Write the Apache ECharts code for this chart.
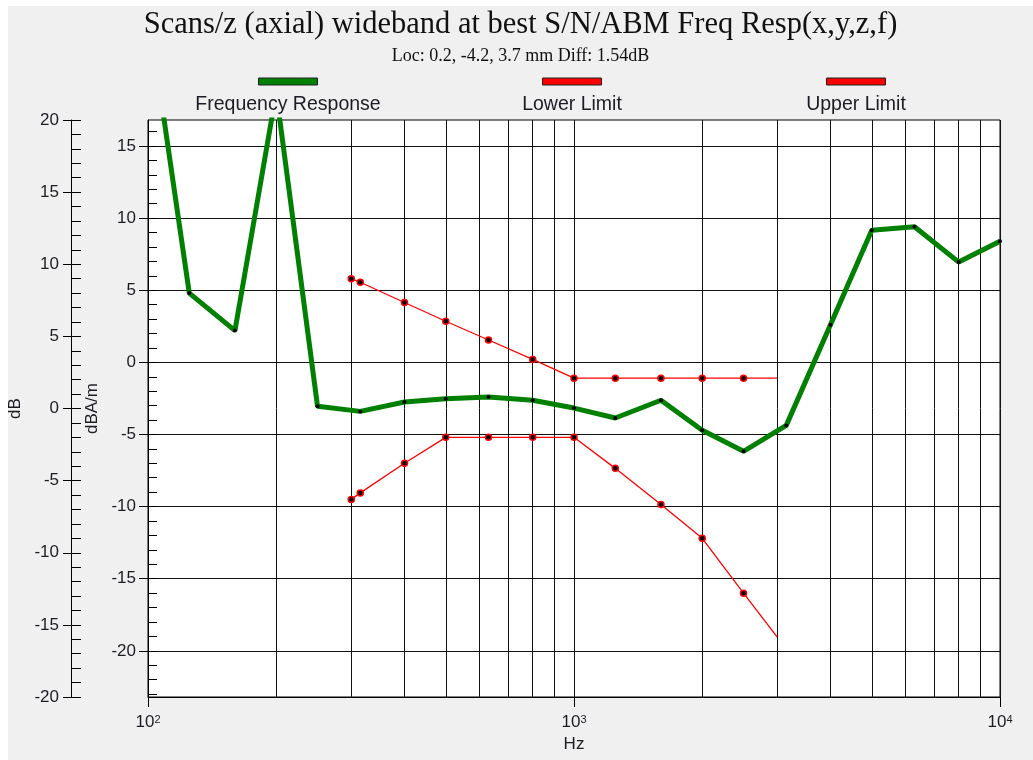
<!DOCTYPE html>
<html>
<head>
<meta charset="utf-8">
<script src="https://cdn.jsdelivr.net/npm/echarts@6/dist/echarts.min.js"></script>
<style>
    html, body { margin: 0; padding: 0; background: #fff; }
    #main { position: absolute; left: 8px; top: 6px; width: 1025px; height: 754px; }
</style>
</head>
<body>
<div id="main"></div>
<script>
// 频率 (Hz)
const freqResp = [100, 125, 160, 200, 250, 315, 400, 500, 630, 800, 1000, 1250, 1600, 2000, 2500, 3150, 4000, 5000, 6300, 8000, 10000]
const valResp = [24.5, 4.8, 2.2, 18.7, -3.05, -3.4, -2.75, -2.52, -2.4, -2.63, -3.17, -3.86, -2.63, -4.71, -6.17, -4.37, 2.6, 9.15, 9.4, 6.95, 8.4]

const freqLimit = [300, 315, 400, 500, 630, 800, 1000, 1250, 1600, 2000, 2500, 3000]
const valLower = [-9.5, -9.05, -7.0, -5.2, -5.2, -5.2, -5.2, -7.35, -9.85, -12.2, -16.0, -19.05]
const valUpper = [5.8, 5.55, 4.15, 2.85, 1.55, 0.2, -1.1, -1.1, -1.1, -1.1, -1.1, -1.1]

// tick labels
const xMajor = [100, 1000, 10000]
const xMinor = [200, 300, 400, 500, 600, 700, 800, 900, 2000, 3000, 4000, 5000, 6000, 7000, 8000, 9000]
const innerMajor = [-20, -15, -10, -5, 0, 5, 10, 15]
const innerMinor = [-23, -22, -21, -20, -19, -18, -17, -16, -15, -14, -13, -12, -11, -10, -9, -8, -7, -6, -5, -4, -3, -2, -1, 0, 1, 2, 3, 4, 5, 6, 7, 8, 9, 10, 11, 12, 13, 14, 15, 16]

const legendNames = ['Frequency Response', 'Lower Limit', 'Upper Limit']
const legendColors = ['#008000', '#ff0000', '#ff0000']

const sans = 'Liberation Sans, Arial, sans-serif'
const serif = 'Liberation Serif, Times New Roman, serif'
const labelColor = '#1c1c24'

function pairs(xs, ys, lastNoSymbol) {
    return xs.map(function (x, i) {
        let item = { value: [x, ys[i]] }
        if (lastNoSymbol && i == xs.length - 1) {
            item.symbol = 'none'
        }
        return item
    })
}

// 图例 (图标在上，文字在下)
const legendX = [280, 564, 848]
let graphic = []
for (let i in legendNames) {
    graphic.push({
        type: 'rect',
        shape: { x: legendX[i] - 29.5, y: 72, width: 59, height: 7 },
        style: { fill: legendColors[i], stroke: '#222', lineWidth: 1 }
    })
    graphic.push({
        type: 'text',
        x: legendX[i],
        y: 99,
        style: {
            text: legendNames[i],
            fill: labelColor,
            font: '19.5px ' + sans,
            textAlign: 'center',
            textVerticalAlign: 'middle'
        }
    })
}

const option = {
    backgroundColor: '#f0f0f0',
    animation: false,
    title: [{
        text: 'Scans/z (axial) wideband at best S/N/ABM Freq Resp(x,y,z,f)',
        left: 'center',
        top: -2,
        textStyle: { fontFamily: serif, fontSize: 30.5, fontWeight: 'normal', color: '#111' }
    }, {
        text: 'Loc: 0.2, -4.2, 3.7 mm Diff: 1.54dB',
        left: 'center',
        top: 36,
        textStyle: { fontFamily: serif, fontSize: 18, fontWeight: 'normal', color: '#111' }
    }],
    graphic: graphic,
    grid: {
        left: 140,
        top: 114,
        width: 852,
        height: 577,
        show: true,
        backgroundColor: '#fff',
        borderColor: '#000',
        borderWidth: 1,
        outerBoundsMode: 'none'
    },
    xAxis: [{
        type: 'log',
        logBase: 10,
        min: 100,
        max: 10000,
        position: 'bottom',
        name: 'Hz',
        nameLocation: 'middle',
        nameGap: 37,
        nameTextStyle: { fontFamily: sans, fontSize: 17, color: labelColor },
        axisLine: { show: true, onZero: false, lineStyle: { color: '#000', width: 1 } },
        axisTick: { show: true, inside: false, length: 10, customValues: xMajor, lineStyle: { color: '#000' } },
        axisLabel: {
            margin: 17,
            customValues: xMajor,
            formatter: function (v) {
                return '{b|10}{s|' + Math.round(Math.log10(v)) + '}'
            },
            rich: {
                b: { fontFamily: sans, fontSize: 17, color: labelColor },
                s: { fontFamily: sans, fontSize: 11, color: labelColor, verticalAlign: 'top' }
            }
        },
        splitLine: { show: true, lineStyle: { color: '#111', width: 1 } }
    }, {
        // 对数副网格线
        type: 'log',
        logBase: 10,
        min: 100,
        max: 10000,
        position: 'bottom',
        axisLine: { show: false },
        axisTick: { show: false, customValues: xMinor },
        axisLabel: { show: false },
        splitLine: { show: true, lineStyle: { color: '#111', width: 1 } }
    }],
    yAxis: [{
        // dBA/m 内轴
        type: 'value',
        min: -23.2,
        max: 16.8,
        position: 'left',
        name: 'dBA/m',
        nameLocation: 'middle',
        nameGap: 42,
        nameTextStyle: { fontFamily: sans, fontSize: 17, color: labelColor },
        axisLine: { show: true, onZero: false, lineStyle: { color: '#000', width: 1 } },
        axisTick: { show: true, inside: false, length: 9, customValues: innerMajor, lineStyle: { color: '#000' } },
        axisLabel: { margin: 12, customValues: innerMajor, fontFamily: sans, fontSize: 17, color: labelColor },
        splitLine: { show: true, lineStyle: { color: '#111', width: 1 } }
    }, {
        // dB 外轴
        type: 'value',
        min: -20,
        max: 20,
        interval: 5,
        position: 'left',
        offset: 77,
        name: 'dB',
        nameLocation: 'middle',
        nameGap: 40,
        nameTextStyle: { fontFamily: sans, fontSize: 17, color: labelColor },
        axisLine: { show: true, onZero: false, lineStyle: { color: '#000', width: 1 } },
        axisTick: { show: true, inside: false, length: 8, lineStyle: { color: '#000' } },
        axisLabel: { margin: 12, fontFamily: sans, fontSize: 17, color: labelColor },
        splitLine: { show: false }
    }, {
        // 内轴小刻度
        type: 'value',
        min: -23.2,
        max: 16.8,
        position: 'left',
        axisLine: { show: false },
        axisTick: { show: true, inside: true, length: 9, customValues: innerMinor, lineStyle: { color: '#000' } },
        axisLabel: { show: false },
        splitLine: { show: false }
    }, {
        // 外轴小刻度
        type: 'value',
        min: -20,
        max: 20,
        interval: 1,
        position: 'left',
        offset: 77,
        axisLine: { show: false },
        axisTick: { show: true, inside: true, length: 10, lineStyle: { color: '#000' } },
        axisLabel: { show: false },
        splitLine: { show: false }
    }],
    series: [{
        name: legendNames[0],
        type: 'line',
        xAxisIndex: 0,
        yAxisIndex: 0,
        data: pairs(freqResp, valResp, false),
        symbol: 'circle',
        symbolSize: 4,
        showAllSymbol: true,
        itemStyle: { color: '#000' },
        lineStyle: { color: '#008000', width: 5 },
        silent: true,
        z: 3
    }, {
        name: legendNames[1],
        type: 'line',
        xAxisIndex: 0,
        yAxisIndex: 0,
        data: pairs(freqLimit, valLower, true),
        symbol: 'circle',
        symbolSize: 6,
        showAllSymbol: true,
        itemStyle: { color: '#000', borderColor: '#ff0000', borderWidth: 1.5 },
        lineStyle: { color: '#ff0000', width: 1.3 },
        silent: true,
        z: 4
    }, {
        name: legendNames[2],
        type: 'line',
        xAxisIndex: 0,
        yAxisIndex: 0,
        data: pairs(freqLimit, valUpper, true),
        symbol: 'circle',
        symbolSize: 6,
        showAllSymbol: true,
        itemStyle: { color: '#000', borderColor: '#ff0000', borderWidth: 1.5 },
        lineStyle: { color: '#ff0000', width: 1.3 },
        silent: true,
        z: 4
    }]
}

const myChart = echarts.init(document.getElementById('main'))
myChart.setOption(option)
</script>
</body>
</html>
